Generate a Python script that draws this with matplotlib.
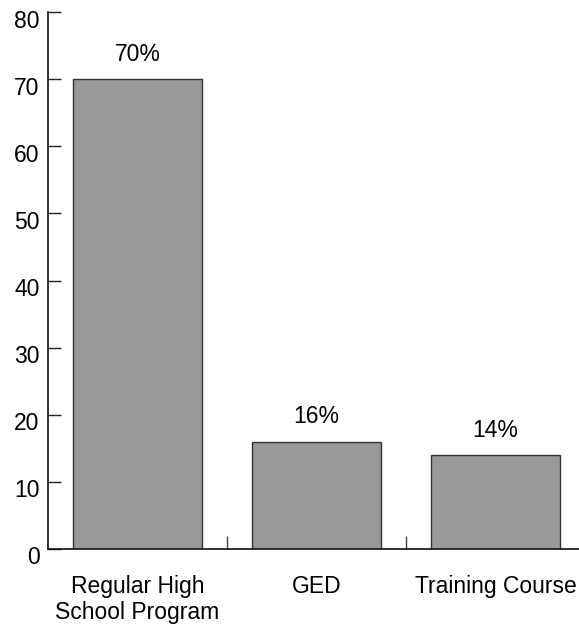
import matplotlib
matplotlib.use("Agg")
import matplotlib.pyplot as plt
import matplotlib.transforms as mtransforms
from matplotlib.ticker import FixedLocator

plt.rcParams['font.family'] = ['Liberation Sans', 'DejaVu Sans']

categories = ["Regular High\nSchool Program", "GED", "Training Course"]
values = [70, 16, 14]
value_labels = ["70%", "16%", "14%"]
yticks = [0, 10, 20, 30, 40, 50, 60, 70, 80]

FS = 16.5

fig = plt.figure(figsize=(5.79, 6.24), dpi=100)
ax = fig.add_axes([48 / 579, 75 / 624, 537 / 579, 537 / 624])

x = list(range(len(categories)))
ax.bar(x, values, width=0.72, color="#999999", edgecolor="#333333", linewidth=1.0)

for xi, v, lab in zip(x, values, value_labels):
    ax.annotate(lab, (xi, v), xytext=(0, 17.8), textcoords="offset points",
                ha="center", va="center", fontsize=FS)

ax.set_xlim(-0.5, len(categories) - 0.5)
ax.set_ylim(0, 80)
ax.set_yticks(yticks)
ax.set_xticks(x)
ax.set_xticklabels(categories, fontsize=FS, linespacing=1.2, va="top")
ax.xaxis.set_minor_locator(FixedLocator([0.5, 1.5]))

ax.tick_params(axis="y", direction="in", length=9.4, width=1.0, labelsize=FS, pad=6, color="#222222")
ax.tick_params(axis="x", which="major", length=0, pad=18.5)
ax.tick_params(axis="x", which="minor", direction="in", length=9.4, width=1.0, color="#444444")

# y tick labels sit slightly below their tick marks
shift = mtransforms.ScaledTranslation(0, -6.5 / 100, fig.dpi_scale_trans)
for lbl in ax.get_yticklabels():
    lbl.set_transform(lbl.get_transform() + shift)

for side in ("top", "right"):
    ax.spines[side].set_visible(False)
for side in ("left", "bottom"):
    ax.spines[side].set_linewidth(1.2)
    ax.spines[side].set_color("#111111")

fig.savefig("out.png", dpi=100)
